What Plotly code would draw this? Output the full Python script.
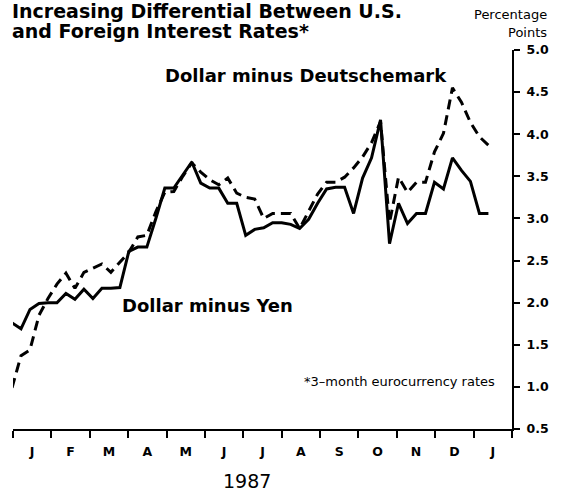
import plotly.graph_objects as go

# ---- data (weekly observations, Jan 1987 - Jan 1988) ----
weeks = list(range(54))
dollar_minus_yen = [
    1.76, 1.69, 1.92, 1.99, 2.00, 2.00, 2.11, 2.04, 2.16, 2.05,
    2.17, 2.17, 2.18, 2.61, 2.66, 2.66, 3.00, 3.36, 3.36, 3.51,
    3.67, 3.42, 3.36, 3.36, 3.18, 3.18, 2.80, 2.87, 2.89, 2.95,
    2.95, 2.93, 2.88, 2.99, 3.18, 3.35, 3.37, 3.37, 3.06, 3.48,
    3.72, 4.17, 2.70, 3.18, 2.94, 3.06, 3.06, 3.43, 3.35, 3.72,
    3.57, 3.44, 3.06, 3.06,
]
dollar_minus_dm = [
    0.99, 1.37, 1.44, 1.85, 2.05, 2.22, 2.35, 2.17, 2.36, 2.41,
    2.46, 2.36, 2.48, 2.60, 2.78, 2.80, 3.08, 3.31, 3.32, 3.50,
    3.66, 3.55, 3.46, 3.40, 3.48, 3.30, 3.25, 3.23, 3.00, 3.06,
    3.06, 3.06, 2.88, 3.08, 3.29, 3.43, 3.43, 3.49, 3.60, 3.73,
    3.90, 4.15, 2.95, 3.49, 3.31, 3.43, 3.43, 3.79, 4.01, 4.55,
    4.38, 4.14, 3.97, 3.87,
]
month_labels = ["J", "F", "M", "A", "M", "J", "J", "A", "S", "O", "N", "D", "J"]
y_ticks = [0.5, 1.0, 1.5, 2.0, 2.5, 3.0, 3.5, 4.0, 4.5, 5.0]

# ---- layout geometry ----
W, H = 561, 492
L, R, T, B = 13, 47, 50, 63
X0 = 0.11            # axis start (weeks)
WPM = 4.27           # weeks per month on this chart
X1 = X0 + WPM * 13

FONT = "DejaVu Sans"


def px(x):
    return (x - L) / (W - L - R)


def py(y):
    return (H - B - y) / (H - T - B)


fig = go.Figure()
fig.add_trace(go.Scatter(
    x=weeks, y=dollar_minus_dm, mode="lines",
    line=dict(color="black", width=3, dash="10px,6px"),
    showlegend=False, hoverinfo="skip"))
fig.add_trace(go.Scatter(
    x=weeks, y=dollar_minus_yen, mode="lines",
    line=dict(color="black", width=3),
    showlegend=False, hoverinfo="skip"))

mids = [X0 + WPM * (k + 0.5) for k in range(len(month_labels))]

fig.update_layout(
    width=W, height=H, autosize=False,
    margin=dict(l=L, r=R, t=T, b=B, pad=0),
    paper_bgcolor="white", plot_bgcolor="white",
    font=dict(family=FONT, color="black"),
    xaxis=dict(
        range=[X0, X1 + 0.005], showgrid=False, zeroline=False,
        showline=True, linecolor="black", linewidth=2,
        tickmode="array", tickvals=mids, ticktext=month_labels,
        ticks="", ticklabelstandoff=10,
        tickfont=dict(family=FONT, size=12.5, weight="bold"),
        minor=dict(tick0=X0, dtick=WPM, ticks="outside", ticklen=7,
                   tickwidth=2, tickcolor="black", showgrid=False),
    ),
    yaxis=dict(
        range=[0.5, 5.0], side="right", showgrid=False, zeroline=False,
        showline=True, linecolor="black", linewidth=2,
        tickmode="array", tickvals=y_ticks,
        ticktext=["%.1f" % v for v in y_ticks],
        ticks="outside", ticklen=6, tickwidth=2, tickcolor="black",
        ticklabelstandoff=4,
        tickfont=dict(family=FONT, size=12.5, weight="bold"),
    ),
)

ann = [
    dict(text="Increasing Differential Between U.S.", x=px(10), y=py(10.5),
         xanchor="left", yanchor="middle",
         font=dict(family=FONT, size=19, weight="bold")),
    dict(text="and Foreign Interest Rates*", x=px(10), y=py(30.5),
         xanchor="left", yanchor="middle",
         font=dict(family=FONT, size=19, weight="bold")),
    dict(text="Percentage", x=px(551), y=py(15), xanchor="right", yanchor="middle",
         font=dict(family=FONT, size=13)),
    dict(text="Points", x=px(551), y=py(32), xanchor="right", yanchor="middle",
         font=dict(family=FONT, size=13)),
    dict(text="Dollar minus Deutschemark", x=px(307), y=py(76),
         xanchor="center", yanchor="middle",
         font=dict(family=FONT, size=18, weight="bold")),
    dict(text="Dollar minus Yen", x=px(208.5), y=py(305),
         xanchor="center", yanchor="middle",
         font=dict(family=FONT, size=18, weight="bold")),
    dict(text="*3\u2013month eurocurrency rates", x=px(499), y=py(381),
         xanchor="right", yanchor="middle",
         font=dict(family=FONT, size=13)),
    dict(text="1987", x=px(247.5), y=py(481), xanchor="center", yanchor="middle",
         font=dict(family=FONT, size=19)),
]
for a in ann:
    a.update(xref="paper", yref="paper", showarrow=False)
fig.update_layout(annotations=ann)

fig.write_html("out.html",
               config={"displayModeBar": False},
               post_script="document.body.style.margin='0';"
                           "document.body.style.overflow='hidden';")
